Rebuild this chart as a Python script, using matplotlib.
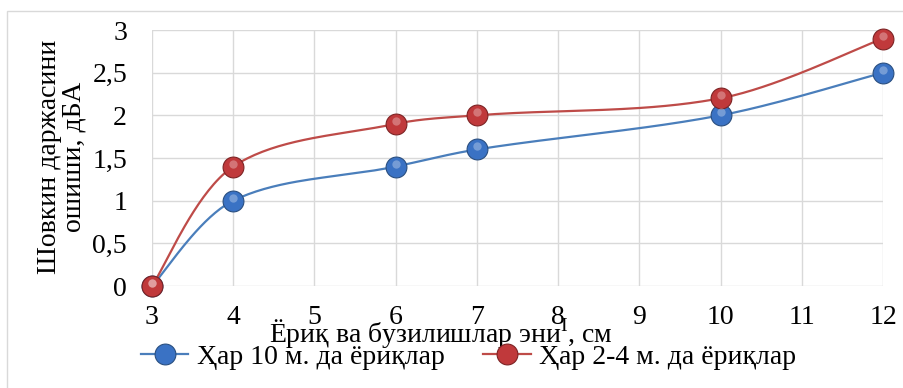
import numpy as np
import matplotlib
matplotlib.use("Agg")
import matplotlib.pyplot as plt
from matplotlib.patches import Rectangle

plt.rcParams['font.family'] = ['Liberation Serif', 'DejaVu Serif']
plt.rcParams['mathtext.fontset'] = 'custom'
plt.rcParams['mathtext.rm'] = 'Liberation Serif'

x_vals = [3, 4, 6, 7, 10, 12]
blue_vals = [0, 1.0, 1.4, 1.6, 2.0, 2.5]
red_vals = [0, 1.4, 1.9, 2.0, 2.2, 2.9]
y_ticks = [0, 0.5, 1, 1.5, 2, 2.5, 3]
y_tick_labels = ['0', '0,5', '1', '1,5', '2', '2,5', '3']
x_ticks = [3, 4, 5, 6, 7, 8, 9, 10, 11, 12]
series_names = ['Ҳар 10 м. да ёриқлар', 'Ҳар 2-4 м. да ёриқлар']
x_label = 'Ёриқ ва бузилишлар эни$^{\\mathrm{I}}$, см'
y_label = 'Шовкин даржасини\nошиши, дБА'

FS = 20
W, H = 904, 388
AX_L, AX_R, AX_T, AX_B = 152, 883, 30, 286


def smooth(xs, ys, sx, sy, n=40):
    # Excel-like smoothed line: cubic Bezier, control points from neighbours,
    # weighted by segment lengths measured in pixels
    P = np.column_stack([np.asarray(xs, float), np.asarray(ys, float)])
    S = np.array([sx, sy])
    Q = P * S
    out = []
    for i in range(len(P) - 1):
        i0 = max(i - 1, 0)
        i3 = min(i + 2, len(P) - 1)
        d01 = np.linalg.norm(Q[i] - Q[i0])
        d12 = np.linalg.norm(Q[i + 1] - Q[i])
        d23 = np.linalg.norm(Q[i3] - Q[i + 1])
        w1 = d12 / (d01 + d12) if d01 > 0 else 0.5
        w2 = d12 / (d12 + d23) if d23 > 0 else 0.5
        p1, p2 = P[i], P[i + 1]
        c1 = p1 + (P[i + 1] - P[i0]) * w1 / 3.0
        c2 = p2 - (P[i3] - P[i]) * w2 / 3.0
        t = np.linspace(0, 1, n)[:, None]
        seg = ((1 - t) ** 3) * p1 + 3 * ((1 - t) ** 2) * t * c1 + 3 * (1 - t) * t ** 2 * c2 + t ** 3 * p2
        out.append(seg if i == 0 else seg[1:])
    R = np.vstack(out)
    return R[:, 0], R[:, 1]


fig = plt.figure(figsize=(9.04, 3.88), dpi=100)
ax = fig.add_axes([AX_L / W, 1 - AX_B / H, (AX_R - AX_L) / W, (AX_B - AX_T) / H])

# outer chart border (top and left visible)
fig.patches.append(Rectangle((7 / W, -0.05), 1.0, 1 - 11 / H + 0.05, transform=fig.transFigure,
                             fill=False, edgecolor='#d9d9d9', linewidth=1.0))

ax.set_xlim(3, 12)
ax.set_ylim(0, 3)
px_x = (AX_R - AX_L) / 9.0
px_y = (AX_B - AX_T) / 3.0

colors = ['#4a7ebb', '#be4b48']
face = ['#3a72c4', '#c0393b']
edge = ['#2a4f80', '#7d2324']
MS = 15
for ys, c, fc, ec, name in zip([blue_vals, red_vals], colors, face, edge, series_names):
    sx, sy = smooth(x_vals, ys, px_x, px_y)
    ax.plot(sx, sy, color=c, linewidth=1.6, zorder=3)
    ax.plot(x_vals, ys, linestyle='none', marker='o', markersize=MS, markerfacecolor=fc,
            markeredgecolor=ec, markeredgewidth=0.8, zorder=4, clip_on=False)
    ax.plot(x_vals, [v + 0.035 for v in ys], linestyle='none', marker='o', markersize=6,
            markerfacecolor='white', markeredgecolor='none', alpha=0.3, zorder=5, clip_on=False)
    ax.plot([], [], color=c, linewidth=1.6, marker='o', markersize=MS, markerfacecolor=fc,
            markeredgecolor=ec, markeredgewidth=0.8, label=name)

ax.set_xticks(x_ticks)
ax.set_xticklabels([str(t) for t in x_ticks], fontsize=FS)
ax.set_yticks(y_ticks)
ax.set_yticklabels(y_tick_labels, fontsize=FS)
ax.tick_params(axis='x', length=0, pad=14)
ax.tick_params(axis='y', length=0, pad=18)
ax.grid(True, color='#d9d9d9', linewidth=1.0)
ax.set_axisbelow(True)
for s in ax.spines.values():
    s.set_visible(False)

fig.text(441 / W, 1 - 334 / H, x_label, ha='center', va='center', fontsize=FS)
fig.text(62 / W, 1 - 157 / H, y_label, ha='center', va='center', rotation=90, fontsize=FS,
         linespacing=1.0)

leg = fig.legend(loc='center left', bbox_to_anchor=(141 / W, 1 - 357 / H), ncol=2,
                 frameon=False, fontsize=FS, handlelength=1.7, handletextpad=0.3,
                 columnspacing=1.4, borderpad=0, borderaxespad=0)

fig.savefig('out.png', dpi=100)
